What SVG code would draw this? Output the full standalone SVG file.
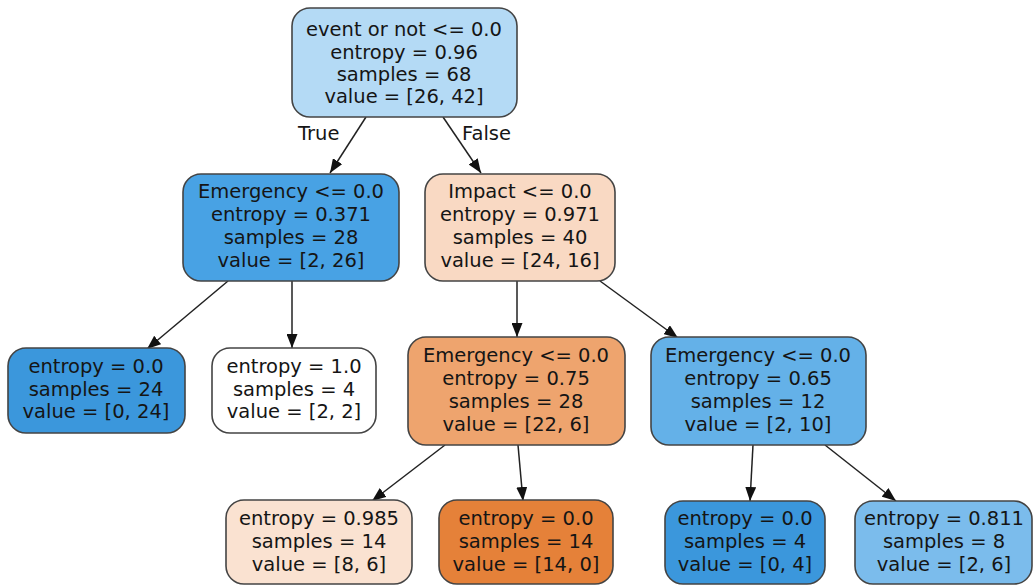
<svg xmlns="http://www.w3.org/2000/svg" width="1033" height="585" viewBox="0 0 1033 585">
<defs>
<marker id="arr" viewBox="0 0 14 11" refX="14" refY="5.5" markerWidth="14" markerHeight="11" markerUnits="userSpaceOnUse" orient="auto">
<path d="M0,0 L14,5.5 L0,11 Z" fill="#111"/>
</marker>
<style>
.n{stroke:#444;stroke-width:1.6}
.t{font-family:"DejaVu Sans",Verdana,sans-serif;font-size:19.5px;fill:#151515;text-anchor:middle}
.lbl{font-family:"DejaVu Sans",Verdana,sans-serif;font-size:19.5px;fill:#151515}
.e{stroke:#222;stroke-width:1.5;fill:none;marker-end:url(#arr)}
</style>
</defs>
<rect width="1033" height="585" fill="#fff"/>
<g id="connectors">
<line class="e" x1="366" y1="117" x2="330" y2="173"/>
<line class="e" x1="443" y1="117" x2="481" y2="173"/>
<line class="e" x1="228" y1="281" x2="147" y2="349"/>
<line class="e" x1="292" y1="281" x2="292" y2="348"/>
<line class="e" x1="517" y1="281" x2="517" y2="337"/>
<line class="e" x1="600" y1="281" x2="678" y2="338"/>
<line class="e" x1="445" y1="445" x2="372" y2="501"/>
<line class="e" x1="518" y1="445" x2="523" y2="501"/>
<line class="e" x1="753" y1="445" x2="750" y2="501"/>
<line class="e" x1="825" y1="445" x2="896" y2="501"/>
<text class="lbl" x="298" y="140">True</text>
<text class="lbl" x="462" y="140">False</text>
</g>
<g id="root">
<rect class="n" x="292" y="8" width="225" height="109" rx="18" fill="#b4daf5"/>
<text class="t" x="404" y="36">event or not &lt;= 0.0</text>
<text class="t" x="404" y="59">entropy = 0.96</text>
<text class="t" x="404" y="81">samples = 68</text>
<text class="t" x="404" y="103">value = [26, 42]</text>
</g>
<g id="emergency1">
<rect class="n" x="183" y="174" width="216" height="107" rx="18" fill="#48a2e4"/>
<text class="t" x="291" y="198">Emergency &lt;= 0.0</text>
<text class="t" x="291" y="221">entropy = 0.371</text>
<text class="t" x="291" y="244">samples = 28</text>
<text class="t" x="291" y="267">value = [2, 26]</text>
</g>
<g id="impact">
<rect class="n" x="425" y="174" width="190" height="107" rx="18" fill="#f9d9c3"/>
<text class="t" x="520" y="198">Impact &lt;= 0.0</text>
<text class="t" x="520" y="221">entropy = 0.971</text>
<text class="t" x="520" y="244">samples = 40</text>
<text class="t" x="520" y="267">value = [24, 16]</text>
</g>
<g id="leaf-0-24">
<rect class="n" x="8" y="348" width="177" height="85" rx="18" fill="#3b97dc"/>
<text class="t" x="96" y="373">entropy = 0.0</text>
<text class="t" x="96" y="396">samples = 24</text>
<text class="t" x="96" y="418">value = [0, 24]</text>
</g>
<g id="leaf-2-2">
<rect class="n" x="212" y="348" width="164" height="85" rx="18" fill="#ffffff"/>
<text class="t" x="294" y="373">entropy = 1.0</text>
<text class="t" x="294" y="396">samples = 4</text>
<text class="t" x="294" y="418">value = [2, 2]</text>
</g>
<g id="emergency2">
<rect class="n" x="408" y="337" width="217" height="108" rx="18" fill="#eea46e"/>
<text class="t" x="516" y="362">Emergency &lt;= 0.0</text>
<text class="t" x="516" y="385">entropy = 0.75</text>
<text class="t" x="516" y="408">samples = 28</text>
<text class="t" x="516" y="431">value = [22, 6]</text>
</g>
<g id="emergency3">
<rect class="n" x="651" y="337" width="215" height="108" rx="18" fill="#64b1e8"/>
<text class="t" x="758" y="362">Emergency &lt;= 0.0</text>
<text class="t" x="758" y="385">entropy = 0.65</text>
<text class="t" x="758" y="408">samples = 12</text>
<text class="t" x="758" y="431">value = [2, 10]</text>
</g>
<g id="leaf-8-6">
<rect class="n" x="226" y="500" width="186" height="84" rx="18" fill="#fae2d1"/>
<text class="t" x="319" y="525">entropy = 0.985</text>
<text class="t" x="319" y="548">samples = 14</text>
<text class="t" x="319" y="571">value = [8, 6]</text>
</g>
<g id="leaf-14-0">
<rect class="n" x="439" y="500" width="174" height="84" rx="18" fill="#e58139"/>
<text class="t" x="526" y="525">entropy = 0.0</text>
<text class="t" x="526" y="548">samples = 14</text>
<text class="t" x="526" y="571">value = [14, 0]</text>
</g>
<g id="leaf-0-4">
<rect class="n" x="665" y="501" width="160" height="83" rx="18" fill="#3b97dc"/>
<text class="t" x="745" y="525">entropy = 0.0</text>
<text class="t" x="745" y="548">samples = 4</text>
<text class="t" x="745" y="571">value = [0, 4]</text>
</g>
<g id="leaf-2-6">
<rect class="n" x="855" y="501" width="177" height="83" rx="18" fill="#7bbcec"/>
<text class="t" x="944" y="525">entropy = 0.811</text>
<text class="t" x="944" y="548">samples = 8</text>
<text class="t" x="944" y="571">value = [2, 6]</text>
</g>
</svg>
